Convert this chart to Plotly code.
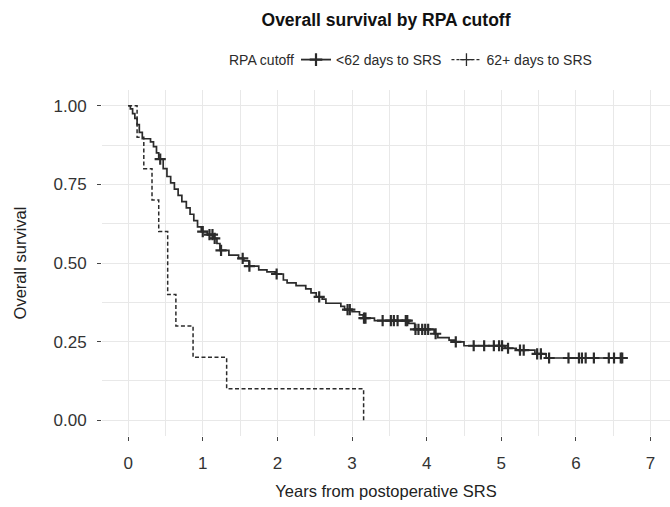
import numpy as np
import plotly.graph_objects as go

# ---- Data ----
# <62 days to SRS : Kaplan-Meier step points (time in years, survival after step)
early_times = [0.00, 0.03, 0.06, 0.09, 0.12, 0.15, 0.19, 0.30, 0.34, 0.38, 0.41,
               0.47, 0.52, 0.57, 0.62, 0.67, 0.72, 0.78, 0.83, 0.88, 0.93, 0.98,
               1.06, 1.14, 1.19, 1.23, 1.35, 1.48, 1.55, 1.62, 1.75, 1.86, 1.97,
               2.08, 2.13, 2.25, 2.38, 2.45, 2.52, 2.60, 2.65, 2.85, 2.90, 3.00,
               3.10, 3.15, 3.30, 3.76, 3.84, 4.10, 4.15, 4.30, 4.37, 4.50, 5.05,
               5.20, 5.45, 5.60]
early_surv = [1.000, 0.990, 0.975, 0.960, 0.940, 0.915, 0.895, 0.885, 0.870, 0.850, 0.830,
              0.800, 0.775, 0.755, 0.735, 0.715, 0.695, 0.675, 0.655, 0.635, 0.615, 0.600,
              0.590, 0.578, 0.562, 0.540, 0.525, 0.515, 0.507, 0.490, 0.478, 0.472, 0.465,
              0.446, 0.437, 0.428, 0.418, 0.405, 0.392, 0.385, 0.372, 0.362, 0.352, 0.345,
              0.335, 0.325, 0.317, 0.308, 0.289, 0.275, 0.263, 0.255, 0.249, 0.237, 0.229,
              0.223, 0.211, 0.198]
early_end = 6.69
early_censor = [0.43, 1.00, 1.09, 1.13, 1.16, 1.245, 1.535, 1.625, 1.99, 2.56, 2.94,
                2.97, 3.16, 3.18, 3.41, 3.52, 3.56, 3.61, 3.72, 3.74, 3.85, 3.89,
                3.94, 3.98, 4.02, 4.12, 4.39, 4.63, 4.77, 4.90, 4.97, 5.01, 5.09,
                5.25, 5.30, 5.48, 5.53, 5.64, 5.90, 6.04, 6.08, 6.13, 6.24, 6.44,
                6.51, 6.60, 6.62]

# 62+ days to SRS
late_times = [0.00, 0.12, 0.21, 0.32, 0.41, 0.53, 0.64, 0.87, 1.32, 3.155]
late_surv = [1.0, 0.9, 0.8, 0.7, 0.6, 0.4, 0.3, 0.2, 0.1, 0.0]

group_labels = ["<62 days to SRS", "62+ days to SRS"]
legend_title = "RPA cutoff"
x_ticks = [0, 1, 2, 3, 4, 5, 6, 7]
y_ticks = [0, 0.25, 0.5, 0.75, 1.0]
y_ticktext = ["0.00", "0.25", "0.50", "0.75", "1.00"]

INK = "#2b2b2b"
GRID = "#e8e8e8"
FONT = "Liberation Sans, Arial, sans-serif"

PLOT_L, PLOT_T, PLOT_W, PLOT_H = 102, 90, 568, 346


def surv_at(t, times, surv):
    i = int(np.searchsorted(times, t, side="right")) - 1
    return surv[max(i, 0)]


fig = go.Figure()

# early group line
ex = list(early_times) + [early_end]
ey = list(early_surv) + [early_surv[-1]]
fig.add_trace(go.Scatter(x=ex, y=ey, mode="lines", line=dict(color=INK, width=1.7, shape="hv"),
                         showlegend=False, hoverinfo="skip"))
# censor marks
cy = [surv_at(t, early_times, early_surv) for t in early_censor]
fig.add_trace(go.Scatter(x=early_censor, y=cy, mode="markers",
                         marker=dict(symbol="cross-thin", size=8, line=dict(color=INK, width=2.2)),
                         showlegend=False, hoverinfo="skip"))
# late group line
fig.add_trace(go.Scatter(x=late_times, y=late_surv, mode="lines",
                         line=dict(color=INK, width=1.5, shape="hv", dash="4px,2.5px"),
                         showlegend=False, hoverinfo="skip"))

# legend entries
fig.add_trace(go.Scatter(x=[None], y=[None], mode="lines+markers", name=group_labels[0],
                         line=dict(color=INK, width=1.8),
                         marker=dict(symbol="cross-thin", size=9, line=dict(color=INK, width=2.2))))
fig.add_trace(go.Scatter(x=[None], y=[None], mode="lines+markers", name=group_labels[1],
                         line=dict(color=INK, width=1.3, dash="3px,2px"),
                         marker=dict(symbol="cross-thin", size=9, line=dict(color=INK, width=1.3))))

legend_left_px = 296
legend_mid_px = 60

fig.update_layout(
    width=670, height=507,
    margin=dict(l=PLOT_L, r=0, t=PLOT_T, b=507 - PLOT_T - PLOT_H),
    paper_bgcolor="white", plot_bgcolor="white",
    font=dict(family=FONT, color=INK),
    title=dict(text="<b>Overall survival by RPA cutoff</b>", x=0.5, xref="paper",
               y=1 - 20 / 507, yref="container", yanchor="middle", xanchor="center",
               font=dict(size=17.5, color="#111111")),
    legend=dict(orientation="h", x=(legend_left_px - PLOT_L) / PLOT_W, xanchor="left",
                y=1 + (PLOT_T - legend_mid_px) / PLOT_H, yanchor="middle",
                font=dict(size=14, color=INK), itemwidth=30, bgcolor="rgba(0,0,0,0)"),
    annotations=[dict(text=legend_title, x=(296 - PLOT_L) / PLOT_W, xref="paper", xanchor="right",
                      y=1 + (PLOT_T - legend_mid_px) / PLOT_H, yref="paper", yanchor="middle",
                      showarrow=False, font=dict(size=14, color=INK))],
    xaxis=dict(range=[-0.35, 7.26], tickvals=x_ticks, showgrid=True, gridcolor=GRID, gridwidth=1.1,
               minor=dict(dtick=0.5, tick0=0, showgrid=True, gridcolor=GRID, gridwidth=0.8),
               zeroline=False, showline=False, ticks="outside", ticklen=4, tickwidth=1,
               tickcolor="#444", tickfont=dict(size=17, color="#333"), ticklabelstandoff=8,
               title=dict(text="Years from postoperative SRS", font=dict(size=16.5, color="#222"),
                          standoff=13)),
    yaxis=dict(range=[-0.05, 1.05], tickvals=y_ticks, ticktext=y_ticktext, showgrid=True,
               gridcolor=GRID, gridwidth=1.1,
               minor=dict(dtick=0.125, tick0=0, showgrid=True, gridcolor=GRID, gridwidth=0.8),
               zeroline=False, showline=False, ticks="outside", ticklen=4, tickwidth=1,
               tickcolor="#444", tickfont=dict(size=17, color="#333"), ticklabelstandoff=7,
               title=dict(text="Overall survival", font=dict(size=16.5, color="#222"), standoff=22)),
)

fig.write_html("out.html")
